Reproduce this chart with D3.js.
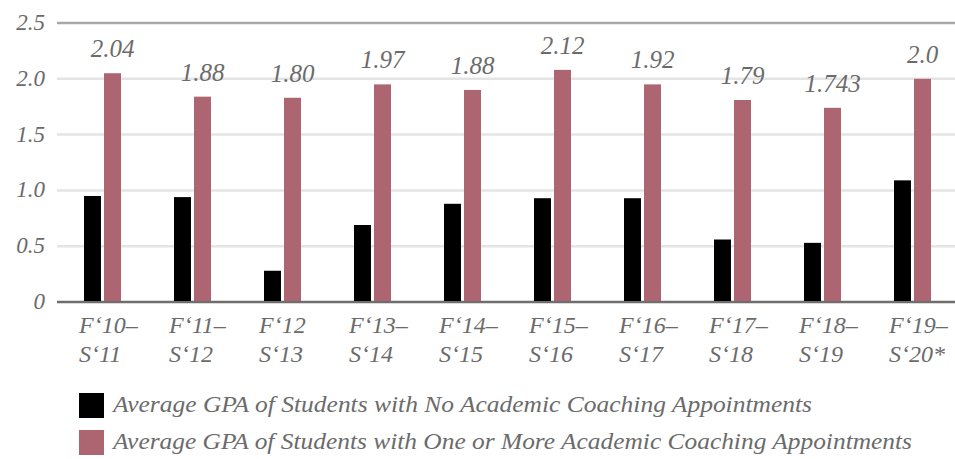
<!DOCTYPE html>
<html>
<head>
<meta charset="utf-8">
<script src="https://cdn.jsdelivr.net/npm/d3@7"></script>
<style>
  body { margin: 0; background: #fff; }
</style>
</head>
<body>
<svg class="gpaChart" width="955" height="459"></svg>
<script>
// data
let terms = [['F‘10–', 'S‘11'], ['F‘11–', 'S‘12'], ['F‘12', 'S‘13'], ['F‘13–', 'S‘14'], ['F‘14–', 'S‘15'],
             ['F‘15–', 'S‘16'], ['F‘16–', 'S‘17'], ['F‘17–', 'S‘18'], ['F‘18–', 'S‘19'], ['F‘19–', 'S‘20*']];
let noCoaching = [0.95, 0.94, 0.28, 0.69, 0.88, 0.93, 0.93, 0.56, 0.53, 1.09];
let withCoaching = [2.05, 1.84, 1.83, 1.95, 1.90, 2.08, 1.95, 1.81, 1.74, 2.00];
let coachLabels = ['2.04', '1.88', '1.80', '1.97', '1.88', '2.12', '1.92', '1.79', '1.743', '2.0'];
let yTicks = [0, 0.5, 1.0, 1.5, 2.0, 2.5];
let legendNames = ['Average GPA of Students with No Academic Coaching Appointments',
                   'Average GPA of Students with One or More Academic Coaching Appointments'];

let colBlack = '#000000', colPink = '#ad6571';

let SVG = d3.select('svg.gpaChart');

let x = d3.scaleBand()
  .domain(d3.range(terms.length))
  .range([58, 958]);

let y = d3.scaleLinear()
  .domain([0, 2.5])
  .range([302, 23]);

function textStyle(sel, size){
  sel.style('font-family', "'Liberation Serif', monospace")
    .style('font-style', 'italic')
    .style('font-size', size + 'px')
    .style('fill', '#6b6b6b');
}

// gridlines
let grid = SVG.append('g').attr('class', 'grid');
grid.selectAll('line')
  .data(yTicks)
  .enter()
  .append('line')
  .attr('x1', 57)
  .attr('x2', 955)
  .attr('y1', d => y(d))
  .attr('y2', d => y(d))
  .style('stroke', d => d == 0 ? '#6e6e6e' : (d == 2.5 ? '#a8a8a8' : '#e4e4e4'))
  .style('stroke-width', 2.5);

grid.selectAll('text')
  .data(yTicks)
  .enter()
  .append('text')
  .attr('x', 45)
  .attr('y', d => y(d) + 7)
  .attr('text-anchor', 'end')
  .call(textStyle, 23)
  .text(d => d == 0 ? '0' : d.toFixed(1));

let barW = 17;

let bars = SVG.append('g').attr('class', 'bars');
bars.selectAll('rect.none')
  .data(noCoaching)
  .enter()
  .append('rect')
  .attr('class', 'none')
  .attr('x', (d, i) => x(i) + x.bandwidth() / 2 - barW - 2)
  .attr('width', barW)
  .attr('y', d => y(d))
  .attr('height', d => y(0) - y(d) - 1)
  .style('fill', colBlack);

bars.selectAll('rect.some')
  .data(withCoaching)
  .enter()
  .append('rect')
  .attr('class', 'some')
  .attr('x', (d, i) => x(i) + x.bandwidth() / 2 + 1)
  .attr('width', barW)
  .attr('y', d => y(d))
  .attr('height', d => y(0) - y(d) - 1)
  .style('fill', colPink);

bars.selectAll('text.val')
  .data(withCoaching)
  .enter()
  .append('text')
  .attr('class', 'val')
  .attr('x', (d, i) => x(i) + x.bandwidth() / 2 + 1 + barW / 2)
  .attr('y', d => y(d) - 16)
  .attr('text-anchor', 'middle')
  .call(textStyle, 25)
  .text((d, i) => coachLabels[i]);

// category labels, two lines each
let xLab = SVG.append('g').attr('class', 'xLabels');
let lab = xLab.selectAll('text')
  .data(terms)
  .enter()
  .append('text')
  .attr('x', (d, i) => x(i) + x.bandwidth() / 2 - 24)
  .attr('y', 333)
  .call(textStyle, 24);
lab.append('tspan').text(d => d[0]);
lab.append('tspan')
  .attr('x', (d, i) => x(i) + x.bandwidth() / 2 - 24)
  .attr('dy', 29)
  .text(d => d[1]);

// legend
let legend = SVG.append('g').attr('class', 'legendContainer');
let legendComp = legend.selectAll('g')
  .data(legendNames)
  .enter()
  .append('g')
  .attr('transform', (d, i) => `translate(79, ${393 + i * 37})`);

legendComp.append('rect')
  .attr('width', 25)
  .attr('height', 25)
  .style('fill', (d, i) => i == 0 ? colBlack : colPink);

legendComp.append('text')
  .attr('x', 34)
  .attr('y', 19)
  .attr('textLength', (d, i) => i == 0 ? 699 : 799)
  .attr('lengthAdjust', 'spacingAndGlyphs')
  .call(textStyle, 23)
  .text(d => d);
</script>
</body>
</html>
